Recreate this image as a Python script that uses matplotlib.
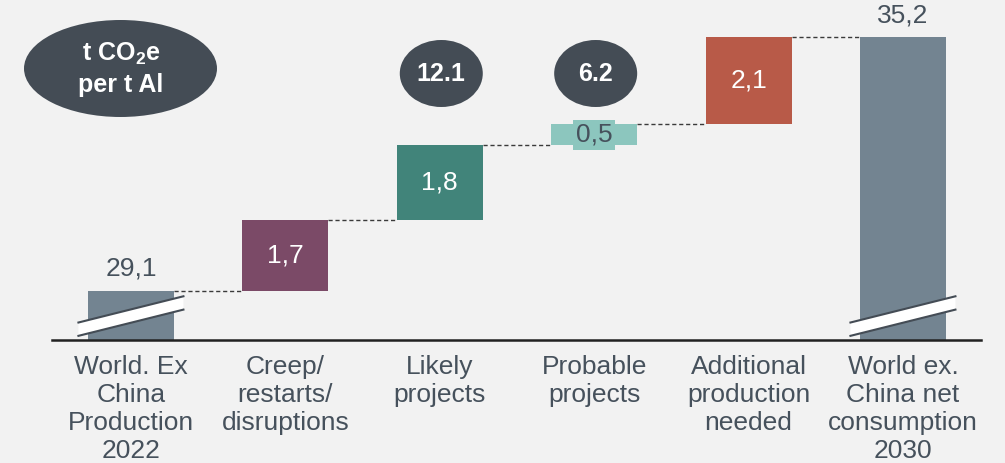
import matplotlib
matplotlib.use("Agg")
import matplotlib.pyplot as plt
from matplotlib.patches import Ellipse, Polygon

# ---- data ----
categories = ["World. Ex\nChina\nProduction\n2022",
              "Creep/\nrestarts/\ndisruptions",
              "Likely\nprojects",
              "Probable\nprojects",
              "Additional\nproduction\nneeded",
              "World ex.\nChina net\nconsumption\n2030"]
start_value = 29.1
increments = [1.7, 1.8, 0.5, 2.1]
end_value = 35.2
value_labels = ["29,1", "1,7", "1,8", "0,5", "2,1", "35,2"]
badge_texts = ["12.1", "6.2"]
badge_positions = [2, 3]
unit_text = "t CO$_\\mathbf{2}$e\nper t Al"

# ---- style ----
BG = "#F2F2F2"
GREY_BAR = "#738491"
COLORS = [GREY_BAR, "#7B4A67", "#41847A", "#8CC6BE", "#B85A48", GREY_BAR]
TXT = "#46515C"
DARK = "#444C55"
BASE = 27.923
W = 0.557

plt.rcParams["font.family"] = ["Liberation Sans", "DejaVu Sans"]
plt.rcParams["mathtext.fontset"] = "custom"
plt.rcParams["mathtext.rm"] = "Liberation Sans"
plt.rcParams["mathtext.bf"] = "Liberation Sans:bold"

fig = plt.figure(figsize=(10.05, 4.63), dpi=100, facecolor=BG)
ax = fig.add_axes([0, 0, 1, 1], facecolor=BG)
ax.set_xlim(-0.848, 5.661)
ax.set_ylim(24.969, 36.089)
ax.axis("off")

# running totals
bottoms = [BASE]
heights = [start_value - BASE]
tops = [start_value]
run = start_value
for inc in increments:
    bottoms.append(run)
    heights.append(inc)
    run += inc
    tops.append(run)
bottoms.append(BASE)
heights.append(end_value - BASE)
tops.append(end_value)

xs = list(range(len(categories)))
ax.bar(xs, heights, bottom=bottoms, width=W, color=COLORS, zorder=2)

# connectors
for i in range(len(xs) - 1):
    ax.plot([xs[i] + W / 2, xs[i + 1] - W / 2], [tops[i], tops[i]],
            color="#3a3a3a", lw=1.0, ls=(0, (3, 2)), zorder=1)

# baseline
ax.axhline(BASE, xmin=52 / 1005, xmax=981 / 1005, color="#222222", lw=1.8, zorder=4)

# break marks on first and last bars
for i in (0, len(xs) - 1):
    x0, x1 = xs[i] - 0.34, xs[i] + 0.34
    y0 = BASE + 0.10
    rise = 0.63
    th = 0.32
    poly = Polygon([[x0, y0], [x1, y0 + rise], [x1, y0 + rise + th], [x0, y0 + th]],
                   closed=True, facecolor="white", edgecolor="none", zorder=3)
    ax.add_patch(poly)
    ax.plot([x0, x1], [y0, y0 + rise], color=DARK, lw=1.5, zorder=3)
    ax.plot([x0, x1], [y0 + th, y0 + rise + th], color=DARK, lw=1.5, zorder=3)

FS = 19
# value labels
ax.text(xs[0], tops[0] + 0.26, value_labels[0], ha="center", va="bottom",
        fontsize=FS, color=TXT)
ax.text(xs[-1], tops[-1] + 0.24, value_labels[-1], ha="center", va="bottom",
        fontsize=FS, color=TXT)
for i in range(1, len(xs) - 1):
    yc = bottoms[i] + heights[i] / 2
    if heights[i] < 1.0:
        ax.text(xs[i], yc, value_labels[i], ha="center", va="center",
                fontsize=FS, color=TXT, zorder=5,
                bbox=dict(boxstyle="square,pad=0.1", fc=COLORS[i], ec="none"))
    else:
        ax.text(xs[i], yc, value_labels[i], ha="center", va="center",
                fontsize=FS, color="white", zorder=5)

# category labels
for i, c in enumerate(categories):
    ax.text(xs[i], 1 - 355 / 463, c, transform=ax.get_xaxis_transform(),
            ha="center", va="top", fontsize=FS, color=TXT, linespacing=1.215)

# unit ellipse
fig.patches.append(Ellipse((120.5 / 1005, 1 - 68.5 / 463), 193 / 1005, 97 / 463,
                           transform=fig.transFigure, facecolor=DARK, edgecolor="none"))
fig.text(121 / 1005, 1 - 69 / 463, unit_text, ha="center", va="center",
         fontsize=18, color="white", fontweight="bold", linespacing=1.3)

# badges
for txt, pos in zip(badge_texts, badge_positions):
    ax.add_patch(Ellipse((pos + 0.01, 1 - 73.5 / 463), 83 / 154.4, 67 / 463,
                         transform=ax.get_xaxis_transform(), facecolor=DARK,
                         edgecolor="none", zorder=5))
    ax.text(pos + 0.01, 1 - 74 / 463, txt, transform=ax.get_xaxis_transform(),
            ha="center", va="center", fontsize=18, color="white",
            fontweight="bold", zorder=6)

fig.savefig("out.png", dpi=100, facecolor=BG)
